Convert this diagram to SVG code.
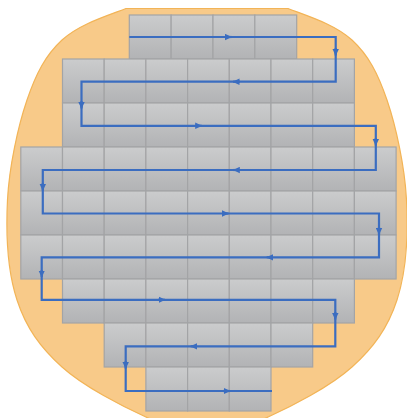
<svg xmlns="http://www.w3.org/2000/svg" width="407" height="418" viewBox="0 0 407 418">
  <style>
    .die { fill: url(#dieGrad); stroke: #a3a4a6; stroke-width: 1.2; }
    .path { fill: none; stroke: #3b6dc0; stroke-width: 2.2; stroke-linejoin: miter; }
    .arr { fill: none; stroke: #3b6dc0; stroke-width: 2.2; marker-end: url(#ah); }
  </style>
  <defs>
    <linearGradient id="dieGrad" x1="0" y1="0" x2="0" y2="1">
      <stop offset="0" stop-color="#cbcccd"/>
      <stop offset="1" stop-color="#b2b3b5"/>
    </linearGradient>
    <rect id="die" class="die" width="41.7" height="44"/>
    <rect id="dieT" class="die" width="41.85" height="44"/>
    <marker id="ah" viewBox="0 0 7 7" refX="6.5" refY="3.5" markerWidth="7" markerHeight="7" markerUnits="userSpaceOnUse" orient="auto">
      <path d="M0,0.3 L7,3.5 L0,6.7 z" fill="#3b6dc0"/>
    </marker>
  </defs>

  <g id="wafer">
    <path d="M126,8.5 L288,8.5 C310,16.8 335.5,24.75 352,40 C368.5,55.25 377.9,73.3 387,100 C396.1,126.7 404.8,166.7 406.5,200 C408.2,233.3 406.1,272.2 397,300 C387.9,327.8 373.7,347.4 352,367 C330.3,386.6 291.2,406.7 267,417.5 C242.8,428.3 227,432 207,432 C187,432 171.2,428.3 147,417.5 C122.8,406.7 83.7,386.6 62,367 C40.3,347.4 26.1,327.8 17,300 C7.9,272.2 5.8,233.3 7.5,200 C9.2,166.7 17.9,126.7 27,100 C36.1,73.3 45.5,55.25 62,40 C78.5,24.75 104,16.8 126,8.5 Z" fill="#f8ca89" stroke="#f2b457" stroke-width="1.2"/>
  </g>

  <g id="dies">
    <use href="#dieT" x="129.3" y="15"/>
    <use href="#dieT" x="171.15" y="15"/>
    <use href="#dieT" x="213.0" y="15"/>
    <use href="#dieT" x="254.85" y="15"/>

    <use href="#die" x="62.5" y="59"/>
    <use href="#die" x="104.2" y="59"/>
    <use href="#die" x="145.9" y="59"/>
    <use href="#die" x="187.6" y="59"/>
    <use href="#die" x="229.3" y="59"/>
    <use href="#die" x="271.0" y="59"/>
    <use href="#die" x="312.7" y="59"/>

    <use href="#die" x="62.5" y="103"/>
    <use href="#die" x="104.2" y="103"/>
    <use href="#die" x="145.9" y="103"/>
    <use href="#die" x="187.6" y="103"/>
    <use href="#die" x="229.3" y="103"/>
    <use href="#die" x="271.0" y="103"/>
    <use href="#die" x="312.7" y="103"/>

    <use href="#die" x="20.8" y="147"/>
    <use href="#die" x="62.5" y="147"/>
    <use href="#die" x="104.2" y="147"/>
    <use href="#die" x="145.9" y="147"/>
    <use href="#die" x="187.6" y="147"/>
    <use href="#die" x="229.3" y="147"/>
    <use href="#die" x="271.0" y="147"/>
    <use href="#die" x="312.7" y="147"/>
    <use href="#die" x="354.4" y="147"/>

    <use href="#die" x="20.8" y="191"/>
    <use href="#die" x="62.5" y="191"/>
    <use href="#die" x="104.2" y="191"/>
    <use href="#die" x="145.9" y="191"/>
    <use href="#die" x="187.6" y="191"/>
    <use href="#die" x="229.3" y="191"/>
    <use href="#die" x="271.0" y="191"/>
    <use href="#die" x="312.7" y="191"/>
    <use href="#die" x="354.4" y="191"/>

    <use href="#die" x="20.8" y="235"/>
    <use href="#die" x="62.5" y="235"/>
    <use href="#die" x="104.2" y="235"/>
    <use href="#die" x="145.9" y="235"/>
    <use href="#die" x="187.6" y="235"/>
    <use href="#die" x="229.3" y="235"/>
    <use href="#die" x="271.0" y="235"/>
    <use href="#die" x="312.7" y="235"/>
    <use href="#die" x="354.4" y="235"/>

    <use href="#die" x="62.5" y="279"/>
    <use href="#die" x="104.2" y="279"/>
    <use href="#die" x="145.9" y="279"/>
    <use href="#die" x="187.6" y="279"/>
    <use href="#die" x="229.3" y="279"/>
    <use href="#die" x="271.0" y="279"/>
    <use href="#die" x="312.7" y="279"/>

    <use href="#die" x="104.2" y="323"/>
    <use href="#die" x="145.9" y="323"/>
    <use href="#die" x="187.6" y="323"/>
    <use href="#die" x="229.3" y="323"/>
    <use href="#die" x="271.0" y="323"/>

    <use href="#die" x="145.9" y="367"/>
    <use href="#die" x="187.6" y="367"/>
    <use href="#die" x="229.3" y="367"/>
  </g>

  <g id="connectors">
    <path class="path" d="M129.3,37 H335.7 V81.7 H81.5 V125.8 H375.8 V170 H42.8 V213.5 H379 V257.3 H41.7 V299.8 H335.3 V346.3 H125.7 V391 H272"/>
    <path class="arr" d="M225,37 H231.5"/>
    <path class="arr" d="M335.7,48 V55.5"/>
    <path class="arr" d="M240,81.7 H233"/>
    <path class="arr" d="M81.5,101 V108.5"/>
    <path class="arr" d="M195,125.8 H201.7"/>
    <path class="arr" d="M375.8,138 V145.5"/>
    <path class="arr" d="M240,170 H233.3"/>
    <path class="arr" d="M42.8,183 V190.5"/>
    <path class="arr" d="M222,213.5 H228.5"/>
    <path class="arr" d="M379,227 V234.5"/>
    <path class="arr" d="M273,257.3 H266.7"/>
    <path class="arr" d="M41.7,270 V277"/>
    <path class="arr" d="M158,299.8 H165"/>
    <path class="arr" d="M335.3,312 V319.5"/>
    <path class="arr" d="M197,346.3 H190.7"/>
    <path class="arr" d="M125.7,361 V368.5"/>
    <path class="arr" d="M223,391 H230"/>
  </g>
</svg>
